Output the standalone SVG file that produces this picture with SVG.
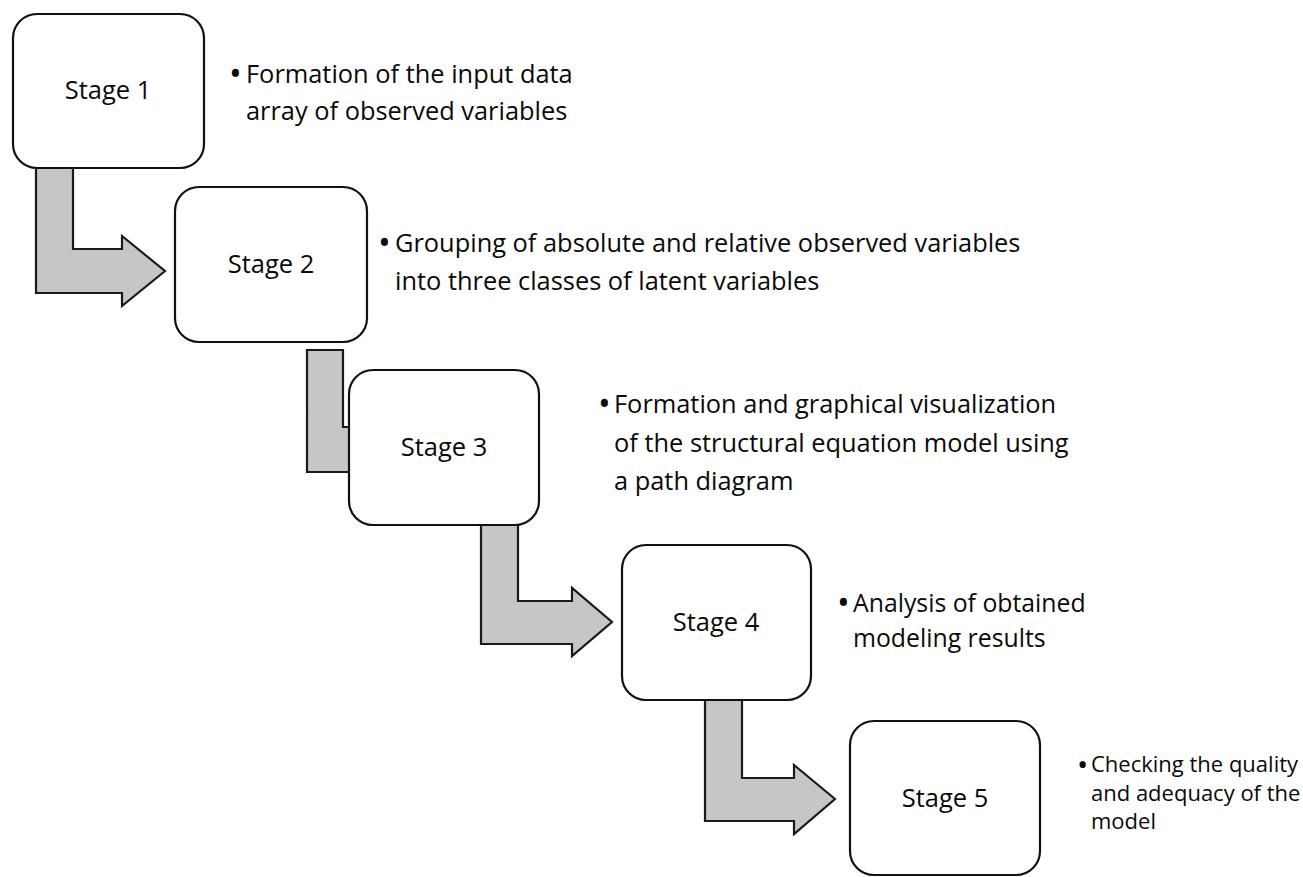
<svg xmlns="http://www.w3.org/2000/svg" width="1303" height="877" viewBox="0 0 1303 877">
<style>
.box{fill:#fff;stroke:#111;stroke-width:2.2}
.arr{fill:#c6c6c6;stroke:#1a1a1a;stroke-width:2.2;stroke-linejoin:miter}
.lbl{font-family:"Open Sans","Noto Sans",sans-serif;font-size:25.5px;fill:#0a0a0a;text-anchor:middle}
.txt{font-family:"Open Sans","Noto Sans",sans-serif;font-size:25.4px;fill:#0a0a0a}
.bul{font-family:"Open Sans","Noto Sans",sans-serif;font-size:34px;fill:#0a0a0a}
.md{font-size:24.8px}
.sm{font-size:22px}
.bsm{font-size:30px}
</style>
<rect width="1303" height="877" fill="#fff"/>
<g id="connectors">
<polygon class="arr" points="36,160 73,160 73,249 122,249 122,236 165,271 122,306 122,293 36,293"/>
<polygon class="arr" points="307,350 343,350 343,427 380,427 380,414 420,449 380,484 380,472 307,472"/>
<polygon class="arr" points="481,518 518,518 518,601 572,601 572,588 612,622 572,656 572,644 481,644"/>
<polygon class="arr" points="705,693 742,693 742,778 794,778 794,765 835,799 794,834 794,821 705,821"/>
</g>
<g id="stage1">
<rect class="box" x="13" y="14" width="191" height="154" rx="24"/>
<text class="lbl" x="108" y="99">Stage 1</text>
<text class="bul" x="229" y="86">•</text>
<text class="txt" x="246" y="83">Formation of the input data</text>
<text class="txt" x="246" y="120">array of observed variables</text>
</g>
<g id="stage2">
<rect class="box" x="175" y="187" width="192" height="155" rx="24"/>
<text class="lbl" x="271" y="273">Stage 2</text>
<text class="bul" x="378" y="255">•</text>
<text class="txt" x="395" y="252">Grouping of absolute and relative observed variables</text>
<text class="txt" x="395" y="290">into three classes of latent variables</text>
</g>
<g id="stage3">
<rect class="box" x="349" y="370" width="190" height="155" rx="24"/>
<text class="lbl" x="444" y="456">Stage 3</text>
<text class="bul" x="598" y="416">•</text>
<text class="txt" x="614" y="413">Formation and graphical visualization</text>
<text class="txt" x="614" y="452">of the structural equation model using</text>
<text class="txt" x="614" y="490">a path diagram</text>
</g>
<g id="stage4">
<rect class="box" x="622" y="545" width="189" height="155" rx="24"/>
<text class="lbl" x="716" y="631">Stage 4</text>
<text class="bul" x="837" y="615">•</text>
<text class="txt md" x="853" y="612">Analysis of obtained</text>
<text class="txt md" x="853" y="647">modeling results</text>
</g>
<g id="stage5">
<rect class="box" x="850" y="721" width="190" height="154" rx="24"/>
<text class="lbl" x="945" y="807">Stage 5</text>
<text class="bul bsm" x="1077" y="775">•</text>
<text class="txt sm" x="1091" y="772">Checking the quality</text>
<text class="txt sm" x="1091" y="801">and adequacy of the</text>
<text class="txt sm" x="1091" y="829">model</text>
</g>
</svg>
